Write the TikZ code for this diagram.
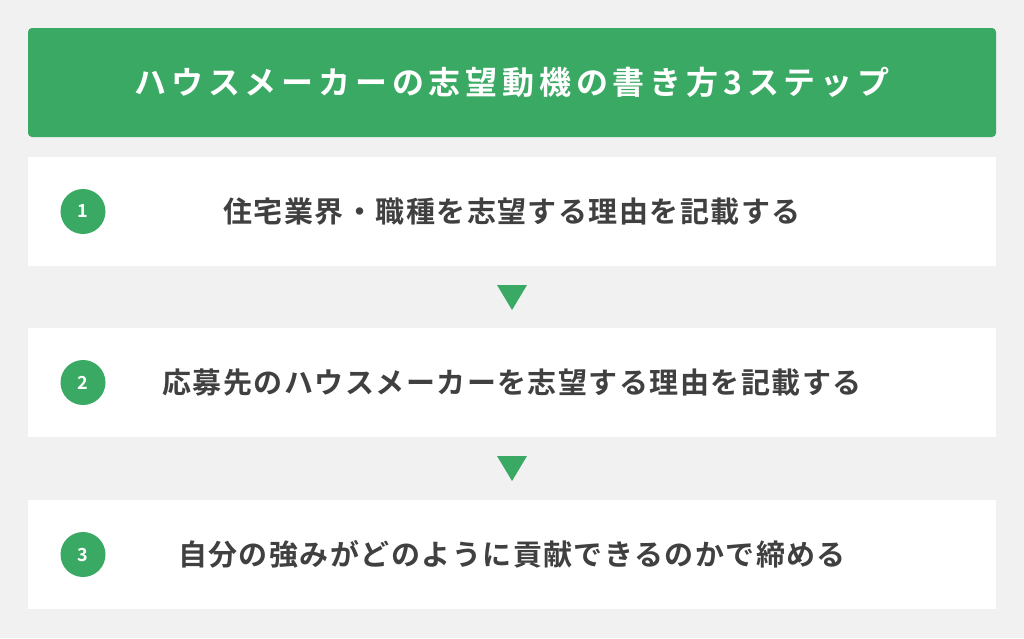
\documentclass[tikz,border=0pt]{standalone}
\usepackage{fontspec}
\usepackage{tikz}
\usetikzlibrary{positioning}
\newfontfamily\jpbold{Noto Sans CJK JP Bold}
\definecolor{hmgreen}{RGB}{58,169,100}
\definecolor{hmgray}{RGB}{241,241,241}
\definecolor{hmtext}{RGB}{64,64,64}
\tikzset{
	headbox/.style={rectangle, fill=hmgreen, rounded corners=4pt, minimum width=968pt, minimum height=109pt, inner sep=0pt, text=white, font=\jpbold\fontsize{32}{32}\selectfont\addfontfeatures{LetterSpace=15}},
	stepbox/.style={rectangle, fill=white, minimum width=968pt, minimum height=109pt, inner sep=0pt, text=hmtext, font=\jpbold\fontsize{29}{29}\selectfont\addfontfeatures{LetterSpace=5}},
	numdot/.style={circle, fill=hmgreen, minimum size=45pt, inner sep=0pt, text=white, font=\jpbold\fontsize{18}{18}\selectfont}
}

\begin{document}
\begin{tikzpicture}[x=1pt, y=-1pt]
	\fill[hmgray] (0,0) rectangle (1024,638);
	\useasboundingbox (0,0) rectangle (1024,638);

	\node[headbox] (head) at (512,82.5) {ハウスメーカーの志望動機の書き方3ステップ};

	\begin{scope}[every node/.style={stepbox}]
		\node (s1) at (512,211.5) {住宅業界・職種を志望する理由を記載する};
		\node (s2) at (512,382.5) {応募先のハウスメーカーを志望する理由を記載する};
		\node (s3) at (512,554.5) {自分の強みがどのように貢献できるのかで締める};
	\end{scope}

	\begin{scope}[every node/.style={numdot}]
		\node (n1) at (83,211.5) {1};
		\node (n2) at (83,382.5) {2};
		\node (n3) at (83,554.5) {3};
	\end{scope}

	% arrows between the steps
	\coordinate (a1) at (512,310);
	\coordinate (a2) at (512,481);
	\fill[hmgreen] (a1) -- ++(-15,-25) -- ++(30,0) -- cycle;
	\fill[hmgreen] (a2) -- ++(-15,-25) -- ++(30,0) -- cycle;
\end{tikzpicture}
\end{document}
